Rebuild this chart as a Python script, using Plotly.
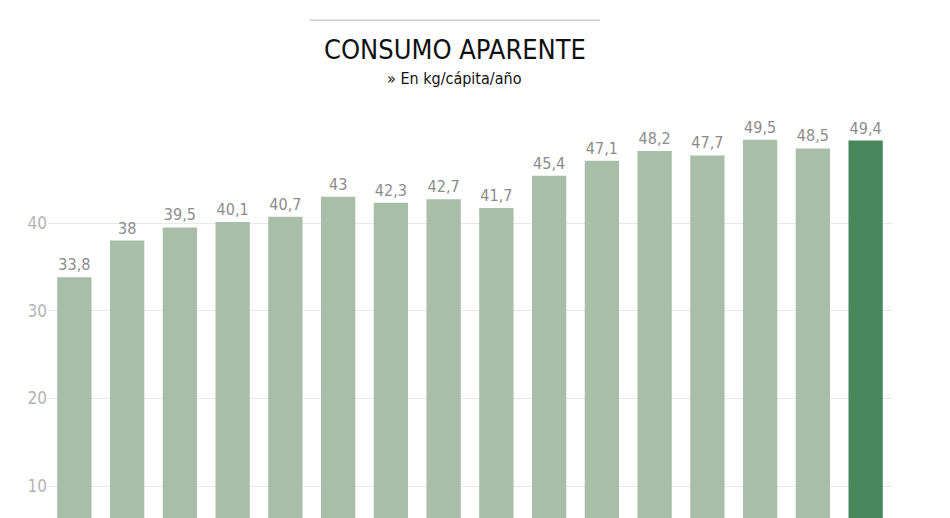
# Bar chart - consumo aparente en kg/cápita/año
import plotly.graph_objects as go

# data
years = [str(y) for y in range(2004, 2020)]
consumo = [33.8, 38, 39.5, 40.1, 40.7, 43, 42.3, 42.7, 41.7, 45.4, 47.1, 48.2, 47.7, 49.5, 48.5, 49.4]
tick_vals = [10, 20, 30, 40]

labels = [f"{v:g}".replace(".", ",") for v in consumo]
colors = ["#a9bea8"] * (len(consumo) - 1) + ["#47875b"]

FONT = "Liberation Sans Narrow, DejaVu Sans Condensed, Arial Narrow, sans-serif"

fig = go.Figure()
fig.add_trace(go.Bar(
    x=years, y=consumo,
    marker=dict(color=colors, line=dict(width=0)),
    text=labels, textposition="outside", cliponaxis=False,
    textfont=dict(family=FONT, size=16, color="#8c8c8c"),
    width=0.65,
))

fig.update_layout(
    width=950, height=518,
    margin=dict(l=40, r=66, t=92, b=8),
    plot_bgcolor="white", paper_bgcolor="white",
    showlegend=False,
    xaxis=dict(showticklabels=False, showgrid=False, zeroline=False, ticks=""),
    yaxis=dict(range=[6.35, 54.03], tickvals=tick_vals, showgrid=True,
               gridcolor="#e8e8e8", gridwidth=1, zeroline=False,
               tickfont=dict(family=FONT, size=17, color="#b3b3b3"), ticks=""),
    shapes=[dict(type="line", xref="paper", yref="paper",
                 x0=0.31, x1=0.654, y0=1.191, y1=1.191,
                 line=dict(color="#cccccc", width=1.5))],
    annotations=[
        dict(text="CONSUMO APARENTE", xref="paper", yref="paper", x=0.482, y=1.162,
             showarrow=False, font=dict(family=FONT, size=27, color="#111111")),
        dict(text="» En kg/cápita/año", xref="paper", yref="paper", x=0.482, y=1.08,
             showarrow=False, font=dict(family=FONT, size=16, color="#111111")),
    ],
)

fig.write_html("out.html")
